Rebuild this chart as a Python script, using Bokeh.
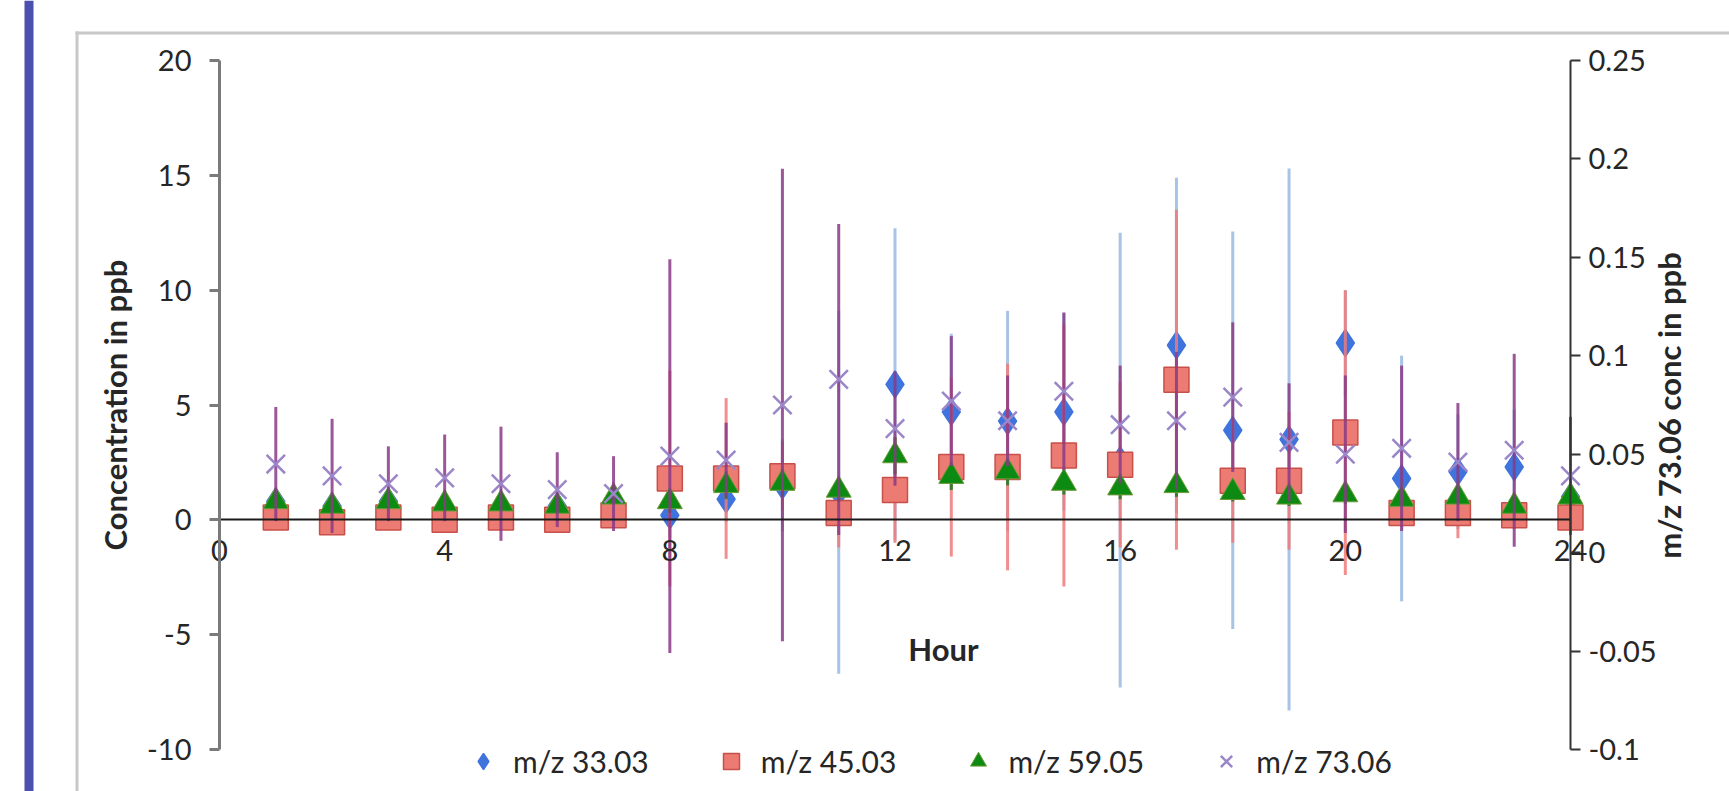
import math
from bokeh.plotting import figure
from bokeh.models import (Range1d, LinearAxis, FixedTicker, Legend, LegendItem,
                          Label, BoxAnnotation)
from bokeh.embed import file_html
from bokeh.resources import INLINE

# ---------------- data ----------------
hours = list(range(1, 25))

mz33 = [0.8, 0.6, 0.8, 0.6, 0.6, 0.6, 0.9, 0.2, 0.9, 1.5, 1.2, 5.9,
        4.7, 4.3, 4.7, 2.6, 7.6, 3.9, 3.5, 7.7, 1.8, 2.1, 2.3, 1.0]
mz33_err = [0.5, 0.5, 0.5, 0.5, 0.5, 0.5, 0.5, 1.0, 1.0, 2.0, 7.9, 6.8,
            3.4, 4.8, 4.3, 9.9, 7.3, 8.65, 11.8, 2.3, 5.35, 2.5, 2.5, 1.0]

mz45 = [0.1, -0.1, 0.1, 0.0, 0.1, 0.0, 0.2, 1.8, 1.8, 1.9, 0.3, 1.3,
        2.3, 2.3, 2.8, 2.4, 6.1, 1.7, 1.7, 3.8, 0.3, 0.3, 0.2, 0.1]
mz45_err = [0.4, 0.4, 0.3, 0.3, 0.4, 0.3, 0.4, 4.7, 3.5, 1.5, 1.5, 2.3,
            3.9, 4.5, 5.7, 3.6, 7.4, 2.7, 3.0, 6.2, 0.6, 1.1, 0.6, 0.5]

mz59 = [0.8, 0.6, 0.8, 0.7, 0.7, 0.6, 1.0, 0.8, 1.5, 1.6, 1.3, 2.8,
        1.9, 2.1, 1.6, 1.4, 1.5, 1.2, 1.0, 1.1, 0.9, 1.0, 0.6, 1.0]
mz59_err = [0.3, 0.3, 0.3, 0.3, 0.3, 0.3, 0.3, 0.5, 0.6, 0.6, 0.5, 0.8,
            0.6, 0.6, 0.5, 0.5, 0.5, 0.4, 0.4, 0.4, 0.3, 0.3, 0.3, 0.3]

# m/z 73.06 is plotted on the right axis (ppb)
mz73 = [0.045, 0.039, 0.035, 0.038, 0.035, 0.032, 0.030, 0.049, 0.047, 0.075, 0.088, 0.063,
        0.077, 0.067, 0.082, 0.065, 0.067, 0.079, 0.056, 0.050, 0.053, 0.046, 0.052, 0.039]
mz73_err = [0.029, 0.029, 0.019, 0.022, 0.029, 0.019, 0.019, 0.100, 0.019, 0.120, 0.079, 0.029,
            0.033, 0.023, 0.040, 0.030, 0.035, 0.038, 0.030, 0.040, 0.042, 0.030, 0.049, 0.030]

series_labels = ["m/z 33.03", "m/z 45.03", "m/z 59.05", "m/z 73.06"]
x_ticks = [0, 4, 8, 12, 16, 20, 24]
left_ticks = [-10, -5, 0, 5, 10, 15, 20]
right_ticks = [-0.1, -0.05, 0, 0.05, 0.1, 0.15, 0.2, 0.25]

# ---------------- geometry ----------------
W, H = 1729, 791
X0_PX, X24_PX = 219, 1570      # canvas px of hour 0 and hour 24
Y20_PX, YM10_PX = 60, 749      # canvas px of 20 and -10 ppb
ppx = (X24_PX - X0_PX) / 24.0
ppy = (YM10_PX - Y20_PX) / 30.0
x_start = -X0_PX / ppx
x_end = (W - X0_PX) / ppx
y_end = 20 + Y20_PX / ppy
y_start = -10 - (H - YM10_PX) / ppy


def to_right(v):
    return (v + 10) / 30.0 * 0.35 - 0.1


def px_x(cx):
    return x_start + cx / ppx


def px_y(cy):
    return y_end - cy / ppy


FONT = "Lato"
TXT = "#262626"
TICK_FS = "29px"
TITLE_FS = "31px"

p = figure(width=W, height=H, x_range=Range1d(x_start, x_end),
           y_range=Range1d(y_start, y_end), output_backend="svg",
           toolbar_location=None, min_border=0, min_border_left=0,
           min_border_right=0, min_border_top=0, min_border_bottom=0)
p.extra_y_ranges = {"right": Range1d(to_right(y_start), to_right(y_end))}
p.grid.visible = False
p.outline_line_color = None
p.background_fill_color = "white"
p.border_fill_color = "white"

# decorations: blue page bar and chart-area border
p.add_layout(BoxAnnotation(left=px_x(24), right=px_x(33), fill_color="#4a4fb0",
                           fill_alpha=1, line_color=None))
p.add_layout(BoxAnnotation(left=px_x(75), right=px_x(78), top=px_y(31),
                           fill_color="#c8c8c8", fill_alpha=1, line_color=None))
p.add_layout(BoxAnnotation(left=px_x(75), top=px_y(31), bottom=px_y(34),
                           fill_color="#c8c8c8", fill_alpha=1, line_color=None))

# x axis through y = 0
xa = p.xaxis[0]
xa.fixed_location = 0
xa.bounds = (0, 24)
xa.ticker = FixedTicker(ticks=x_ticks)
xa.major_tick_out = 0
xa.major_tick_in = 0
xa.minor_tick_out = 0
xa.minor_tick_in = 0
xa.major_label_standoff = 20
xa.axis_line_color = "#1a1a1a"
xa.axis_line_width = 2
xa.major_label_text_font = FONT
xa.major_label_text_font_size = TICK_FS
xa.major_label_text_color = TXT

# left axis
ya = p.yaxis[0]
ya.fixed_location = 0
ya.bounds = (-10, 20)
ya.ticker = FixedTicker(ticks=left_ticks)
ya.major_label_overrides = {t: str(t) for t in left_ticks}
ya.axis_label = "Concentration in ppb"
ya.axis_label_text_font = FONT
ya.axis_label_text_font_style = "bold"
ya.axis_label_text_font_size = TITLE_FS
ya.axis_label_text_color = TXT
ya.axis_label_standoff = 10
ya.major_label_text_font = FONT
ya.major_label_text_font_size = TICK_FS
ya.major_label_text_color = TXT
ya.major_label_standoff = 18
ya.major_tick_out = 10
ya.major_tick_in = 0
ya.minor_tick_out = 0
ya.minor_tick_in = 0
ya.axis_line_color = "#7a7a7a"
ya.axis_line_width = 3
ya.major_tick_line_color = "#7a7a7a"
ya.major_tick_line_width = 3

# right axis
ra = LinearAxis(y_range_name="right", fixed_location=24, bounds=(-0.1, 0.25),
                ticker=FixedTicker(ticks=right_ticks))
ra.major_label_overrides = {t: f"{t:g}" for t in right_ticks}
ra.major_label_text_font = FONT
ra.major_label_text_font_size = TICK_FS
ra.major_label_text_color = TXT
ra.major_label_standoff = 8
ra.major_tick_out = 10
ra.major_tick_in = 0
ra.minor_tick_out = 0
ra.minor_tick_in = 0
ra.axis_line_color = "#333333"
ra.axis_line_width = 2
ra.major_tick_line_color = "#333333"
ra.major_tick_line_width = 2
p.add_layout(ra, "right")

# right axis title, reading bottom-to-top like the original
p.add_layout(Label(x=px_x(1668), y=px_y(405), text="m/z 73.06 conc in ppb",
                   angle=math.pi / 2, text_align="center", text_baseline="middle",
                   text_font=FONT, text_font_style="bold",
                   text_font_size=TITLE_FS, text_color=TXT))


def bars(vals, errs, color, alpha, width, **kw):
    lo = [v - e for v, e in zip(vals, errs)]
    hi = [v + e for v, e in zip(vals, errs)]
    p.segment(x0=hours, y0=lo, x1=hours, y1=hi, line_color=color,
              line_alpha=alpha, line_width=width, **kw)


# m/z 33.03
bars(mz33, mz33_err, "#9dbde2", 0.9, 3)
r33 = p.scatter(hours, mz33, marker="diamond", size=27,
                fill_color="#3f74dc", line_color="#3f74dc", line_width=1.5)
# m/z 45.03
bars(mz45, mz45_err, "#f07a7a", 0.85, 3)
r45 = p.scatter(hours, mz45, marker="square", size=25, fill_color="#ec7b73",
                line_color="#c8504a", line_width=1.5)
# m/z 59.05
bars(mz59, mz59_err, "#2a7a2a", 0.9, 3)
r59 = p.scatter(hours, mz59, marker="triangle", size=25, fill_color="#0d8a12",
                line_color="#6f9a3a", line_width=1)
# m/z 73.06 (right axis)
bars(mz73, mz73_err, "#8a3a86", 0.85, 3, y_range_name="right")
r73 = p.scatter(hours, mz73, marker="x", size=26, line_color="#9a86c8",
                line_width=2.5, y_range_name="right")

# "Hour" axis title placed inside the plot area as in the original
p.add_layout(Label(x=px_x(943), y=px_y(648), text="Hour", text_align="center",
                   text_baseline="middle", text_font=FONT,
                   text_font_style="bold", text_font_size=TITLE_FS,
                   text_color=TXT))

legend = Legend(items=[LegendItem(label=series_labels[0], renderers=[r33]),
                       LegendItem(label=series_labels[1], renderers=[r45]),
                       LegendItem(label=series_labels[2], renderers=[r59]),
                       LegendItem(label=series_labels[3], renderers=[r73])],
                orientation="horizontal", location=(463, 10))
legend.label_text_font = FONT
legend.label_text_font_size = "30px"
legend.label_text_color = TXT
legend.glyph_width = 40
legend.glyph_height = 40
legend.label_standoff = 10
legend.spacing = 62
legend.padding = 0
legend.margin = 0
legend.border_line_color = None
legend.background_fill_alpha = 0
p.add_layout(legend, "center")

open("out.html", "w").write(file_html(p, INLINE))
